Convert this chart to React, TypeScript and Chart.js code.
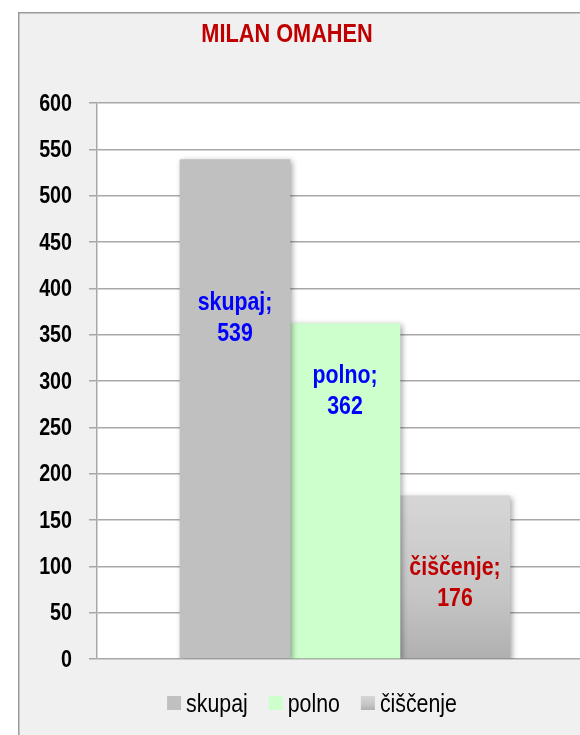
import React, { useEffect, useRef } from 'react';
import { Chart, registerables } from 'chart.js';

Chart.register(...registerables);

const TITLE = 'MILAN OMAHEN';
const SERIES = ['skupaj', 'polno', 'čiščenje'];
const VALUES = [539, 362, 176];
const Y_MIN = 0;
const Y_MAX = 600;
const Y_STEP = 50;
const LABEL_COLORS = ['#0000ff', '#0000ff', '#c00000'];
// value level (on the y scale) where each bar's label block is centred
const LABEL_AT = [368, 289, 82];

const FONT = '"Liberation Sans", Arial, sans-serif';
const NARROW_X = 0.82;

function grayGradient(ctx: CanvasRenderingContext2D, top: number, bottom: number) {
  const g = ctx.createLinearGradient(0, top, 0, bottom);
  g.addColorStop(0, '#d6d6d6');
  g.addColorStop(0.6, '#c6c6c6');
  g.addColorStop(1, '#b0b0b0');
  return g;
}

function narrowText(
  ctx: CanvasRenderingContext2D,
  text: string,
  x: number,
  y: number,
  align: CanvasTextAlign,
  baseline: CanvasTextBaseline
) {
  ctx.save();
  ctx.translate(x, y);
  ctx.scale(NARROW_X, 1);
  ctx.textAlign = align;
  ctx.textBaseline = baseline;
  ctx.fillText(text, 0, 0);
  ctx.restore();
}

const framePlugin = {
  id: 'frame',
  beforeDraw(chart: any) {
    const { ctx, width, height, chartArea: ca } = chart;
    ctx.save();
    ctx.fillStyle = '#f0f0f0';
    ctx.fillRect(0, 0, width, height);
    ctx.strokeStyle = '#9a9a9a';
    ctx.lineWidth = 1.5;
    ctx.beginPath();
    ctx.moveTo(0.75, height);
    ctx.lineTo(0.75, 0.75);
    ctx.lineTo(width, 0.75);
    ctx.stroke();
    ctx.fillStyle = '#ffffff';
    ctx.fillRect(ca.left, ca.top, ca.right - ca.left, ca.bottom - ca.top);
    ctx.font = `bold 26.5px ${FONT}`;
    ctx.fillStyle = '#c00000';
    narrowText(ctx, TITLE, 269, 30, 'center', 'alphabetic');
    // y tick labels
    const yScale = chart.scales.y;
    ctx.font = `bold 24px ${FONT}`;
    ctx.fillStyle = '#000000';
    yScale.ticks.forEach((t: any) => {
      narrowText(ctx, String(t.value), yScale.right - 8 - 17, yScale.getPixelForValue(t.value) + 1, 'right', 'middle');
    });
    ctx.restore();
  },
  beforeDatasetsDraw(chart: any) {
    const ctx = chart.ctx;
    ctx.save();
    ctx.shadowColor = 'rgba(0,0,0,0.38)';
    ctx.shadowBlur = 6;
    ctx.shadowOffsetX = 2;
    ctx.shadowOffsetY = 2;
  },
  afterDatasetsDraw(chart: any) {
    const ctx = chart.ctx;
    ctx.restore();
    const yScale = chart.scales.y;
    ctx.save();
    ctx.font = `bold 26px ${FONT}`;
    SERIES.forEach((s, i) => {
      const bar = chart.getDatasetMeta(i).data[0];
      const yc = yScale.getPixelForValue(LABEL_AT[i]);
      ctx.fillStyle = LABEL_COLORS[i];
      narrowText(ctx, s + ';', bar.x, yc - 15, 'center', 'middle');
      narrowText(ctx, String(VALUES[i]), bar.x, yc + 16, 'center', 'middle');
    });
    // legend
    const ca = chart.chartArea;
    ctx.font = `26px ${FONT}`;
    const box = 14;
    const gap = 5;
    const itemGap = 21;
    const widths = SERIES.map((s) => box + gap + ctx.measureText(s).width * NARROW_X);
    const total = widths.reduce((a, b) => a + b, 0) + itemGap * (SERIES.length - 1);
    let x = chart.width / 2 - total / 2;
    const boxTop = ca.bottom + 37;
    SERIES.forEach((s, i) => {
      const ds = chart.data.datasets[i];
      let fill: any = ds.legendColor;
      if (i === 2) fill = grayGradient(ctx, boxTop, boxTop + box);
      ctx.fillStyle = fill;
      ctx.fillRect(x, boxTop, box, box);
      ctx.fillStyle = '#000000';
      narrowText(ctx, s, x + box + gap, boxTop + 16, 'left', 'alphabetic');
      x += widths[i] + itemGap;
    });
    ctx.restore();
  },
};

export default function App() {
  const ref = useRef<HTMLCanvasElement>(null);
  useEffect(() => {
    const colors = ['#c0c0c0', '#ccffcc', '#c8c8c8'];
    const chart = new Chart(ref.current!, {
      type: 'bar',
      data: {
        labels: [''],
        datasets: SERIES.map((s, i) => ({
          label: s,
          data: [VALUES[i]],
          legendColor: colors[i],
          backgroundColor:
            i === 2
              ? (c: any) => {
                  const ch = c.chart;
                  if (!ch.chartArea) return colors[i];
                  const y = ch.scales.y;
                  return grayGradient(ch.ctx, y.getPixelForValue(VALUES[i]), y.getPixelForValue(0));
                }
              : colors[i],
          borderWidth: 0,
          barThickness: 110,
        })) as any,
      },
      options: {
        animation: false,
        responsive: true,
        maintainAspectRatio: false,
        layout: { padding: { top: 91, bottom: 86, left: 0, right: 13 } },
        plugins: {
          legend: { display: false },
          title: { display: false },
          tooltip: { enabled: false },
        },
        scales: {
          x: { display: false, offset: true },
          y: {
            min: Y_MIN,
            max: Y_MAX,
            afterFit: (scale: any) => {
              scale.width = 79;
            },
            ticks: {
              stepSize: Y_STEP,
              display: false,
            },
            grid: {
              color: '#a8a8a8',
              lineWidth: 1.5,
              tickLength: 8,
              drawTicks: true,
            },
            border: { display: true, color: '#a8a8a8', width: 1.5 },
          },
        },
      } as any,
      plugins: [framePlugin],
    });
    return () => chart.destroy();
  }, []);
  return (
    <div
      style={{
        position: 'fixed',
        left: 0,
        top: 0,
        width: 580,
        height: 735,
        overflow: 'hidden',
        background: '#ffffff',
      }}
    >
      <div style={{ position: 'absolute', left: 18, top: 12, width: 588, height: 733 }}>
        <canvas ref={ref} />
      </div>
    </div>
  );
}
